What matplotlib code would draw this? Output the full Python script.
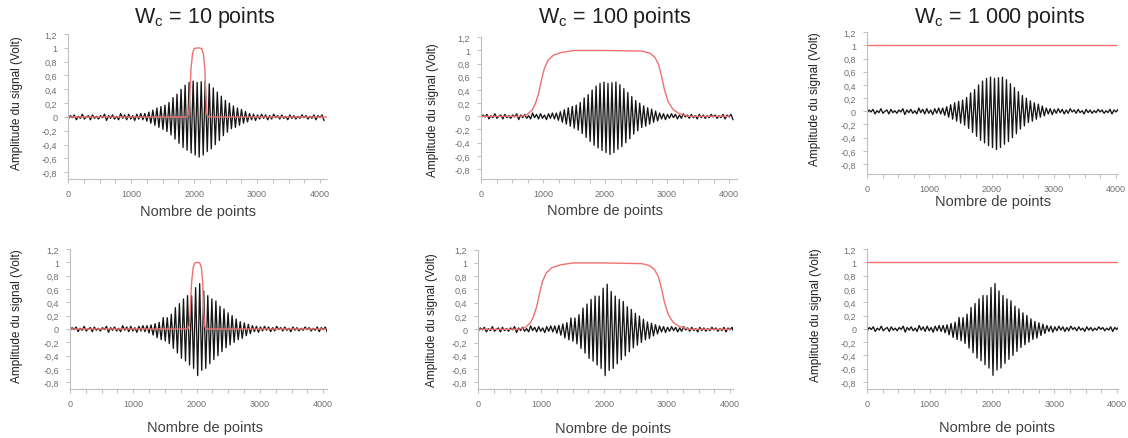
import numpy as np
import matplotlib
matplotlib.use('Agg')
import matplotlib.pyplot as plt
from matplotlib.ticker import FuncFormatter, MultipleLocator

plt.rcParams['font.family'] = ['Liberation Sans', 'DejaVu Sans']
plt.rcParams['mathtext.fontset'] = 'custom'
plt.rcParams['mathtext.rm'] = 'Liberation Sans'

# signal samples, one every 32 points
step = 32
noise_left = [-0.03, 0.02, -0.01, 0.03, -0.04, 0.01, -0.02, 0.04, -0.03, 0.00,
              0.02, -0.04, 0.03, -0.02, 0.01, -0.03, 0.02, -0.01, 0.04, -0.05,
              0.02, -0.02, 0.03, -0.03, 0.01, -0.04, 0.05, -0.02, 0.03, -0.04,
              0.04, -0.03, 0.02, -0.05, 0.04, -0.03, 0.05, -0.04, 0.05]
packet_top = [-0.06, 0.07, -0.09, 0.10, -0.12, 0.13, -0.15, 0.15, -0.18, 0.17,
              -0.21, 0.21, -0.26, 0.28, -0.32, 0.33, -0.38, 0.40, -0.44, 0.46,
              -0.48, 0.50, -0.52, 0.52, -0.55, 0.50, -0.58, 0.51, -0.55, 0.52,
              -0.50, 0.48, -0.46, 0.42, -0.40, 0.36, -0.34, 0.30, -0.27, 0.24,
              -0.22, 0.20, -0.17, 0.16, -0.15, 0.13, -0.12, 0.11, -0.09, 0.08,
              -0.07]
packet_bottom = [-0.06, 0.06, -0.09, 0.08, -0.13, 0.10, -0.16, 0.17, -0.18, 0.17,
                 -0.22, 0.22, -0.29, 0.32, -0.36, 0.38, -0.44, 0.45, -0.48, 0.50,
                 -0.54, 0.50, -0.59, 0.62, -0.70, 0.68, -0.62, 0.57, -0.59, 0.50,
                 -0.52, 0.45, -0.46, 0.42, -0.40, 0.34, -0.34, 0.30, -0.28, 0.24,
                 -0.24, 0.20, -0.20, 0.15, -0.16, 0.11, -0.14, 0.09, -0.10, 0.07,
                 -0.07]
noise_right = [0.05, -0.04, 0.04, -0.05, 0.03, -0.03, 0.04, -0.02, 0.03, -0.04,
               0.02, -0.03, 0.04, -0.01, 0.02, -0.03, 0.03, -0.02, 0.01, -0.04,
               0.03, -0.02, 0.02, -0.03, 0.01, -0.02, 0.03, -0.01, 0.02, -0.03,
               0.01, -0.02, 0.03, -0.04, 0.02, -0.01, 0.03, -0.05]

signal_top = noise_left + packet_top + noise_right
signal_bottom = noise_left + packet_bottom + noise_right

# windows (red curves)
win10_top_x = [0, 1890, 1915, 1930, 1950, 1975, 2000, 2060, 2120, 2145, 2170, 2185, 2200, 2225, 4100]
win10_bot_x = [0, 1860, 1885, 1900, 1920, 1945, 1970, 2010, 2050, 2075, 2095, 2110, 2125, 2150, 4040]
win10_y = [0, 0, 0.05, 0.3, 0.7, 0.92, 0.99, 1.0, 0.99, 0.92, 0.7, 0.3, 0.05, 0, 0]
win100_x = [0, 650, 750, 830, 880, 930, 975, 1020, 1080, 1170, 1300, 1500, 2000,
            2600, 2720, 2800, 2860, 2910, 2960, 3020, 3100, 3200, 3350, 4000]
win100_y = [0, 0, 0.03, 0.1, 0.2, 0.35, 0.55, 0.72, 0.85, 0.93, 0.97, 1.0, 1.0,
            0.99, 0.96, 0.9, 0.8, 0.62, 0.4, 0.22, 0.1, 0.04, 0, 0]
win1000_x = [0, 4000]
win1000_y = [1, 1]

titles = ['W$_\\mathregular{c}$ = 10 points',
          'W$_\\mathregular{c}$ = 100 points',
          'W$_\\mathregular{c}$ = 1 000 points']
xlabel = 'Nombre de points'
ylabel = 'Amplitude du signal (Volt)'
yticks = [-0.8, -0.6, -0.4, -0.2, 0, 0.2, 0.4, 0.6, 0.8, 1, 1.2]

W, H = 1128, 439
fig = plt.figure(figsize=(W / 100, H / 100), dpi=100)

# pixel calibration: x of 0, x of 4000, axis end, y of 1.2, y of -0.8, x-axis y
cals = [(68.3, 320.0, 326.7, 35.0, 173.3, 180),
        (481, 729, 737, 38.3, 170, 180),
        (867, 1116, 1118, 33.3, 165, 175),
        (70, 323.3, 326.7, 250, 383.3, 390),
        (478.3, 730, 733, 250.7, 383.3, 390),
        (867.3, 1116.7, 1118, 250, 383, 390)]
title_pos = [(205, 17), (615, 17), (1000, 17)]
xlabel_pos = [(198, 212), (605, 211), (993, 202), (205, 428), (613, 429), (997, 428)]
ylabel_pos = [(17, 103), (433, 110), (815, 99), (17, 316), (432, 320), (816, 315)]

windows = [(win10_top_x, win10_y), (win100_x, win100_y), (win1000_x, win1000_y),
           (win10_bot_x, win10_y), (win100_x, win100_y), (win1000_x, win1000_y)]
signals = [signal_top] * 3 + [signal_bottom] * 3

fmt = FuncFormatter(lambda v, p: ('%g' % round(v, 1)).replace('.', ','))
grey = '#bfbfbf'

for k, cal in enumerate(cals):
    x0, x4k, xend, y12, ym08, yax = cal
    pxk = (x4k - x0) / 4000.0
    pyu = (ym08 - y12) / 2.0
    ax = fig.add_axes([x0 / W, 1 - yax / H, (xend - x0) / W, (yax - y12) / H])
    ax.set_xlim(0, (xend - x0) / pxk)
    ax.set_ylim(1.2 - (yax - y12) / pyu, 1.2)

    sig = signals[k]
    ax.plot(np.arange(len(sig)) * step, sig, color='#151515', lw=0.95)
    wx, wy = windows[k]
    ax.plot(wx, wy, color='#f07070', lw=1.0)

    for s in ['top', 'right']:
        ax.spines[s].set_visible(False)
    for s in ['left', 'bottom']:
        ax.spines[s].set_color(grey)
        ax.spines[s].set_linewidth(0.8)
    ax.set_xticks([0, 1000, 2000, 3000, 4000])
    ax.xaxis.set_minor_locator(MultipleLocator(250))
    ax.set_yticks(yticks)
    ax.yaxis.set_major_formatter(fmt)
    ax.tick_params(which='both', colors=grey, length=3, width=0.7, labelsize=6.5,
                   labelcolor='#707070')
    ax.tick_params(axis='x', pad=4)
    ax.tick_params(axis='y', pad=5)

    fig.text(xlabel_pos[k][0] / W, 1 - xlabel_pos[k][1] / H, xlabel,
             ha='center', va='center', fontsize=10.5, color='#404040')
    fig.text(ylabel_pos[k][0] / W, 1 - ylabel_pos[k][1] / H, ylabel,
             ha='center', va='center', rotation=90, fontsize=8.5, color='#202020')

for k, (tx, ty) in enumerate(title_pos):
    fig.text(tx / W, 1 - ty / H, titles[k], ha='center', va='center',
             fontsize=15.5, color='#202020')

fig.savefig('out.png', dpi=100)
